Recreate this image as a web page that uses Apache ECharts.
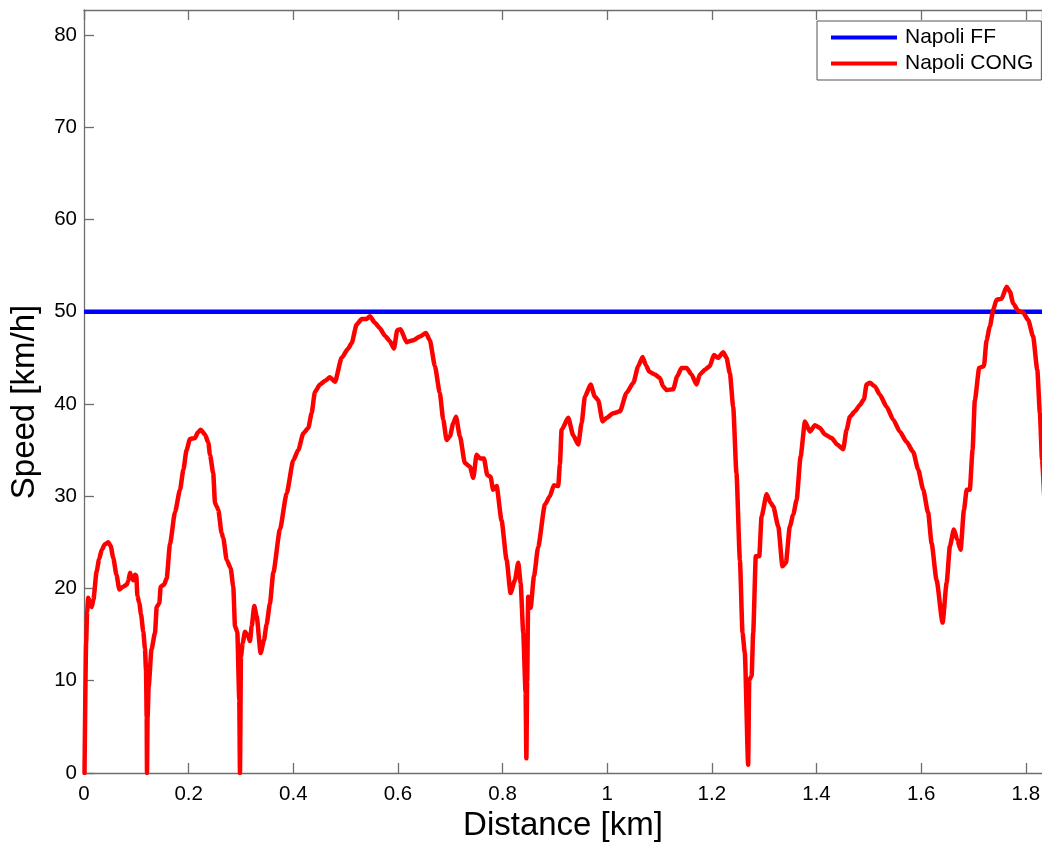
<!DOCTYPE html>
<html>
<head>
<meta charset="utf-8">
<script src="https://cdn.jsdelivr.net/npm/echarts@6/dist/echarts.min.js"></script>
<style>
html,body{margin:0;padding:0;background:#fff;}
#chart{width:1042px;height:842px;}
</style>
</head>
<body>
<div id="chart"></div>
<script>
// ---- data ----
const seriesNames = ['Napoli FF', 'Napoli CONG'];
const ffDistance = [0, 1.84];
const ffSpeed = [50, 50];
const congDistance = [0.001,0.004,0.006,0.008,0.011,0.0147,0.018,0.024,0.029,0.034,0.040,0.0465,0.051,0.056,0.062,0.0675,0.075,0.0816,0.0847,0.0879,0.091,0.094,0.0975,0.1,0.102,0.1057,0.109,0.1133,0.1165,0.1185,0.1198,0.1204,0.1215,0.1236,0.129,0.1357,0.139,0.144,0.1465,0.153,0.158,0.1643,0.174,0.1835,0.19,0.196,0.2026,0.212,0.2175,0.223,0.2312,0.2376,0.2408,0.247,0.2503,0.2535,0.2567,0.263,0.266,0.2727,0.2803,0.2853,0.2886,0.293,0.2968,0.2981,0.3,0.3033,0.3077,0.314,0.3172,0.3205,0.3254,0.33,0.3376,0.344,0.349,0.3554,0.3618,0.3745,0.3873,0.4,0.4096,0.419,0.4287,0.435,0.4414,0.451,0.4605,0.470,0.4797,0.4924,0.505,0.5116,0.521,0.5307,0.540,0.5465,0.556,0.5656,0.575,0.5847,0.5924,0.5987,0.605,0.6166,0.6293,0.642,0.6535,0.661,0.6707,0.680,0.6866,0.693,0.6994,0.7057,0.711,0.7185,0.728,0.7376,0.744,0.7504,0.7567,0.7644,0.7707,0.777,0.782,0.7886,0.798,0.8077,0.8153,0.8236,0.83,0.8345,0.8395,0.844,0.8455,0.847,0.849,0.8536,0.86,0.868,0.881,0.8905,0.898,0.9064,0.9096,0.9128,0.9255,0.935,0.9446,0.951,0.9574,0.9683,0.9765,0.9828,0.9912,0.9989,1.0115,1.0243,1.037,1.05,1.0592,1.0676,1.074,1.0803,1.091,1.1007,1.107,1.1135,1.1262,1.1338,1.142,1.1517,1.161,1.1708,1.177,1.1867,1.196,1.2039,1.212,1.2217,1.228,1.2345,1.2408,1.247,1.2536,1.2586,1.263,1.2694,1.2714,1.276,1.279,1.284,1.2906,1.295,1.3047,1.3123,1.3173,1.327,1.335,1.3415,1.349,1.3555,1.362,1.3696,1.378,1.3874,1.397,1.4065,1.416,1.4288,1.4396,1.451,1.4575,1.4638,1.4734,1.483,1.4906,1.4957,1.502,1.5116,1.5211,1.534,1.5466,1.5594,1.572,1.5848,1.5943,1.604,1.6134,1.62,1.6295,1.641,1.6487,1.655,1.6626,1.669,1.6754,1.6818,1.687,1.693,1.6983,1.7026,1.711,1.72,1.725,1.7314,1.7378,1.744,1.7537,1.7633,1.7696,1.776,1.7855,1.795,1.8046,1.814,1.822,1.827,1.831,1.836];
const congSpeed = [0,14,17.5,19.0,18.6,18.0,18.8,21.8,23.2,24.2,24.8,25.0,24.6,23.3,21.5,19.9,20.2,20.4,20.8,21.7,21.3,20.9,21.5,21.4,19.2,18.4,17.2,15.3,13.5,11.2,6,0,6,9.4,13.4,15.2,18.0,18.4,20.2,20.4,21.1,24.8,28.3,30.7,32.9,35.0,36.2,36.3,36.9,37.2,36.7,35.8,34.5,32.5,29.3,28.9,28.5,26.0,25.5,23.1,22.2,20.2,15.9,15.3,7.9,0,12.6,14.1,15.3,14.8,14.3,15.9,18.1,17.0,13.0,14.4,16.1,18.4,21.7,26.4,30.3,33.9,35.0,36.8,37.4,39.0,41.3,42.1,42.5,42.9,42.4,45.0,46.0,46.6,48.6,49.2,49.2,49.5,48.8,48.2,47.4,46.8,46.0,48.0,48.1,46.7,46.9,47.3,47.7,46.9,44.1,41.2,38.3,36.1,36.5,37.9,38.6,36.5,33.6,33.2,32.0,34.5,34.1,34.1,32.3,32.1,30.7,31.1,27.4,23.1,19.5,20.9,22.8,20.6,15.2,8.7,1.6,10,19.1,17.9,21.3,24.5,29.1,30.0,31.2,31.1,33.5,37.2,38.5,36.6,35.6,37.9,40.8,42.1,40.8,40.4,38.1,38.5,39.0,39.2,41.2,42.3,44.1,45.1,44.2,43.5,43.2,42.8,41.9,41.5,41.6,43.0,43.9,43.9,43.2,42.1,43.2,43.7,44.1,45.3,45.0,45.6,45.0,43.3,39.7,32.5,23.1,15.2,13.0,0.9,10.1,10.5,15.2,23.5,23.5,27.8,30.2,29.3,28.9,26.7,22.4,22.8,26.7,28.0,29.6,34.3,38.1,37.0,37.7,37.4,36.7,36.3,35.6,35.1,37.2,38.6,39.2,39.9,40.5,42.1,42.3,41.9,41.0,39.7,38.3,37.0,35.9,34.8,32.9,30.7,28.2,24.9,20.9,16.3,20.6,24.6,26.4,25.3,24.2,28.5,30.7,30.7,35.0,40.4,43.9,44.1,46.9,48.4,50.2,51.3,51.4,52.7,52.2,50.9,50.1,49.9,49.1,47.3,43.7,39.0,34.0,29];

const xMin = 0, xMax = 1.831, xStep = 0.2;
const yMin = 0, yMax = 82.7, yStep = 10;

const zip = (a, b) => a.map((v, i) => [v, b[i]]);

const font = 'Liberation Sans, Arial, Helvetica, sans-serif';
const axisGray = '#6e6e6e';

const chart = echarts.init(document.getElementById('chart'), null, {renderer: 'canvas'});
chart.setOption({
  backgroundColor: '#ffffff',
  animation: false,
  textStyle: {fontFamily: font},
  grid: {left: 84, right: 0, top: 10, bottom: 69, containLabel: false, outerBoundsMode: 'none'},
  legend: {
    data: seriesNames,
    orient: 'vertical',
    left: 817, top: 21,
    padding: [6, 8, 6, 14],
    itemGap: 5,
    itemWidth: 66, itemHeight: 4,
    icon: 'rect',
    borderColor: '#555', borderWidth: 1,
    backgroundColor: '#ffffff',
    textStyle: {fontSize: 21, color: '#000', fontFamily: font, padding: [0, 0, 0, 3]}
  },
  xAxis: [{
    type: 'value', min: xMin, max: xMax, interval: xStep,
    position: 'bottom',
    name: 'Distance [km]', nameLocation: 'middle', nameGap: 36,
    nameTextStyle: {fontSize: 33, color: '#000', fontFamily: font},
    axisLine: {show: true, lineStyle: {color: axisGray, width: 1.3}},
    axisTick: {show: true, inside: true, length: 10, lineStyle: {color: axisGray, width: 1.3}},
    axisLabel: {fontSize: 20.5, color: '#000', margin: 11, showMaxLabel: false, fontFamily: font},
    splitLine: {show: false}
  }, {
    type: 'value', min: xMin, max: xMax, interval: xStep,
    position: 'top',
    axisLine: {show: true, lineStyle: {color: axisGray, width: 1.3}},
    axisTick: {show: true, inside: true, length: 10, lineStyle: {color: axisGray, width: 1.3}},
    axisLabel: {show: false},
    splitLine: {show: false}
  }],
  yAxis: [{
    type: 'value', min: yMin, max: yMax, interval: yStep,
    position: 'left',
    name: 'Speed [km/h]', nameLocation: 'middle', nameGap: 43,
    nameTextStyle: {fontSize: 33, color: '#000', fontFamily: font, padding: [0, 21, 0, 0]},
    axisLine: {show: true, lineStyle: {color: axisGray, width: 1.3}},
    axisTick: {show: true, inside: true, length: 10, lineStyle: {color: axisGray, width: 1.3}},
    axisLabel: {fontSize: 20.5, color: '#000', margin: 7, showMaxLabel: false, fontFamily: font},
    splitLine: {show: false}
  }],
  series: [{
    name: seriesNames[0], type: 'line', xAxisIndex: 0, yAxisIndex: 0,
    data: zip(ffDistance, ffSpeed),
    symbol: 'none', clip: true,
    lineStyle: {color: '#0000ff', width: 4.5},
    itemStyle: {color: '#0000ff'}
  }, {
    name: seriesNames[1], type: 'line', xAxisIndex: 0, yAxisIndex: 0,
    data: zip(congDistance, congSpeed),
    symbol: 'none', clip: true,
    smooth: 0.2, smoothMonotone: 'x',
    lineStyle: {color: '#ff0000', width: 4.5, join: 'round', cap: 'round'},
    itemStyle: {color: '#ff0000'}
  }]
});
</script>
</body>
</html>
